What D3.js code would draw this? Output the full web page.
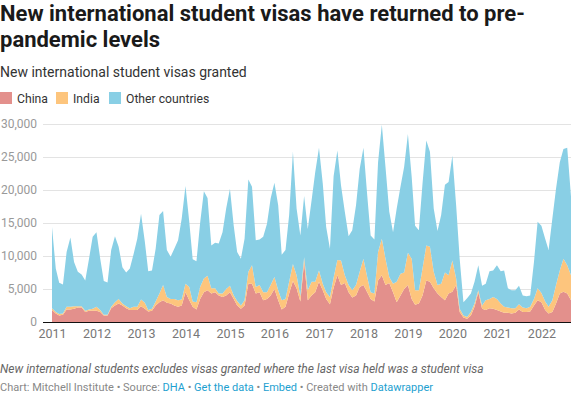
<!DOCTYPE html>
<html>
<head>
<meta charset="utf-8">
<script src="https://cdn.jsdelivr.net/npm/d3@7/dist/d3.min.js"></script>
<style>
  html, body { margin: 0; padding: 0; background: #fff; }
  svg { display: block; font-family: Roboto, "Noto Sans", sans-serif; }
</style>
</head>
<body>
<svg id="chart" width="571" height="401"></svg>
<script>
// Monthly data, Jan 2011 .. Sep 2022
const startMonth = new Date(2011, 0, 1);
const seriesNames = ["China", "India", "Other countries"];
const seriesColors = ["#e3908c", "#fdc57d", "#89cfe5"];

const china = [
  1800,1300,1000,1100,1900,1900,2000,2200,2200,1500,
  1700,1700,1700,1500,1000,1000,2100,2500,2800,2500,
  2100,1800,1800,1800,2400,2000,1600,1700,2500,3000,
  3300,2900,2800,2500,2300,2500,4500,3300,2300,1900,
  3500,4500,4800,4300,4500,4000,3800,4000,4500,3500,
  2500,2000,2500,5800,5800,4300,4500,3300,3500,4000,
  5000,3300,1900,2300,4300,6200,5100,3100,9100,3300,
  4000,4500,6100,4800,3500,2700,5200,7100,5600,5900,
  4500,3700,4000,5300,5600,4500,3500,3100,6300,7100,
  5600,5900,4500,3000,4000,5000,5600,3500,2600,2800,
  4000,6300,6100,5100,4300,3800,3300,4300,4600,5600,
  1500,700,500,1000,2300,4500,2000,1800,2100,2000,
  1800,1600,1400,1400,1300,1400,1900,1500,1500,1600,
  2500,3300,3000,1800,1300,1500,2800,4300,4600,4300,3300
];
const india = [
  300,200,200,200,400,400,400,200,200,200,
  200,300,600,300,100,100,200,500,700,300,
  300,300,500,500,1000,900,200,300,600,1300,
  2300,900,700,1000,1000,900,1300,2000,800,1100,
  1800,2100,2200,800,600,300,500,1000,1000,500,
  700,500,800,1800,2800,1000,1100,1200,1000,1600,
  1800,1500,1400,1200,1800,2600,2000,800,700,1500,
  2100,1600,1700,1000,1000,1100,1500,2300,3700,1200,
  1100,1100,1600,2300,4000,2300,1000,1200,4300,5500,
  4000,900,1300,3100,3300,2500,4900,6100,2200,2000,
  4100,5300,5300,2500,1300,2000,4200,2800,4700,1000,
  500,300,260,500,500,300,500,1500,1400,1800,
  1700,1200,900,800,800,700,800,700,600,700,
  1000,1800,1400,1300,1000,1800,2800,3500,5000,4300,3800
];
const other = [
  12300,6600,4760,4400,8300,10500,6700,5200,4800,4600,
  7700,10900,11300,7800,5100,4900,8600,10000,7900,5500,
  5100,6000,8000,10300,13000,9300,5900,5800,8000,11900,
  11200,7100,6400,7600,9100,12300,14800,9900,6400,6200,
  9700,13200,11800,6500,6900,7600,9300,12200,14700,10600,
  7400,7100,9300,14000,11900,7100,6900,8400,10400,13100,
  14300,12900,6900,7400,10100,17000,10100,9200,9300,9300,
  12300,16600,18600,15200,9900,7300,15400,16600,11400,9600,
  7400,9100,12100,15600,16800,12400,8600,8200,13600,17300,
  13900,9900,7800,11100,13200,16000,18000,12400,9800,9100,
  12900,15900,14400,9600,8200,10400,13300,14100,15900,11100,
  7600,2000,2840,2800,3300,3800,3000,2500,4200,4000,
  5100,4900,5500,2900,2700,2700,2800,1800,1800,1700,
  5600,10100,10200,9500,8600,12400,14600,16400,16600,17800,11900
];
const yTicks = [0, 5000, 10000, 15000, 20000, 25000, 30000];
const xTickYears = [2011,2012,2013,2014,2015,2016,2017,2018,2019,2020,2021,2022];

const rows = china.map((c, i) => ({
  date: new Date(startMonth.getFullYear(), startMonth.getMonth() + i, 1),
  "China": c, "India": india[i], "Other countries": other[i]
}));

const svg = d3.select("#chart");

// Title / subtitle
svg.append("text").attr("x", 0).attr("y", 21)
  .attr("font-size", 22).attr("font-weight", 700).attr("fill", "#1a1a1a")
  .text("New international student visas have returned to pre-");
svg.append("text").attr("x", 0).attr("y", 47)
  .attr("font-size", 22).attr("font-weight", 700).attr("fill", "#1a1a1a")
  .text("pandemic levels");
svg.append("text").attr("x", 0).attr("y", 77)
  .attr("font-size", 14).attr("fill", "#333")
  .text("New international student visas granted");

// Legend
const legendX = [0, 56, 109];
const lg = svg.append("g");
seriesNames.forEach((n, i) => {
  lg.append("rect").attr("x", legendX[i]).attr("y", 92).attr("width", 12).attr("height", 12)
    .attr("fill", seriesColors[i]);
  lg.append("text").attr("x", legendX[i] + 17).attr("y", 103)
    .attr("font-size", 12.2).attr("fill", "#333").text(n);
});

// Scales
const x = d3.scaleTime()
  .domain([rows[0].date, rows[rows.length - 1].date])
  .range([52, 571]);
const y = d3.scaleLinear().domain([0, 30000]).range([322, 124]);

// Gridlines
const grid = svg.append("g");
yTicks.filter(t => t > 0).forEach(t => {
  grid.append("line").attr("x1", 43).attr("x2", 571)
    .attr("y1", y(t) + 0.5).attr("y2", y(t) + 0.5)
    .attr("stroke", "#e3e3e3").attr("stroke-width", 1);
});

// Stacked areas
const stack = d3.stack().keys(seriesNames);
const layers = stack(rows);
const area = d3.area()
  .x(d => x(d.data.date))
  .y0(d => y(d[0]))
  .y1(d => y(d[1]));
svg.append("g").selectAll("path").data(layers).join("path")
  .attr("d", area)
  .attr("fill", (d, i) => seriesColors[i]);

// Baseline
svg.append("line").attr("x1", 43).attr("x2", 571)
  .attr("y1", y(0) + 0.5).attr("y2", y(0) + 0.5)
  .attr("stroke", "#111").attr("stroke-width", 1);

// Y axis labels
const yAxis = d3.axisLeft(y).tickValues(yTicks).tickSize(0).tickPadding(0)
  .tickFormat(d3.format(","));
const yg = svg.append("g").attr("transform", "translate(37,0)").call(yAxis);
yg.select(".domain").remove();
yg.selectAll("text").attr("font-size", 12).attr("fill", "#999")
  .attr("font-family", "Roboto, sans-serif");

// X axis labels
const xAxis = d3.axisBottom(x)
  .tickValues(xTickYears.map(yr => new Date(yr, 0, 1)))
  .tickSize(0).tickPadding(0)
  .tickFormat(d3.timeFormat("%Y"));
const xg = svg.append("g").attr("transform", "translate(0,329)").call(xAxis);
xg.select(".domain").remove();
xg.selectAll("text").attr("font-size", 12.5).attr("fill", "#777")
  .attr("font-family", "Roboto, sans-serif");

// Notes / footer
svg.append("text").attr("x", 0).attr("y", 373)
  .attr("font-size", 12).attr("font-style", "italic").attr("fill", "#666")
  .text("New international students excludes visas granted where the last visa held was a student visa");
const foot = svg.append("text").attr("x", 0).attr("y", 391)
  .attr("font-size", 11).attr("fill", "#888");
const parts = [
  ["Chart: Mitchell Institute • Source: ", "#888"],
  ["DHA", "#1d9fd0"],
  [" • ", "#888"],
  ["Get the data", "#1d9fd0"],
  [" • ", "#888"],
  ["Embed", "#1d9fd0"],
  [" • Created with ", "#888"],
  ["Datawrapper", "#1d9fd0"]
];
parts.forEach(p => foot.append("tspan").attr("fill", p[1]).text(p[0]));
</script>
</body>
</html>
